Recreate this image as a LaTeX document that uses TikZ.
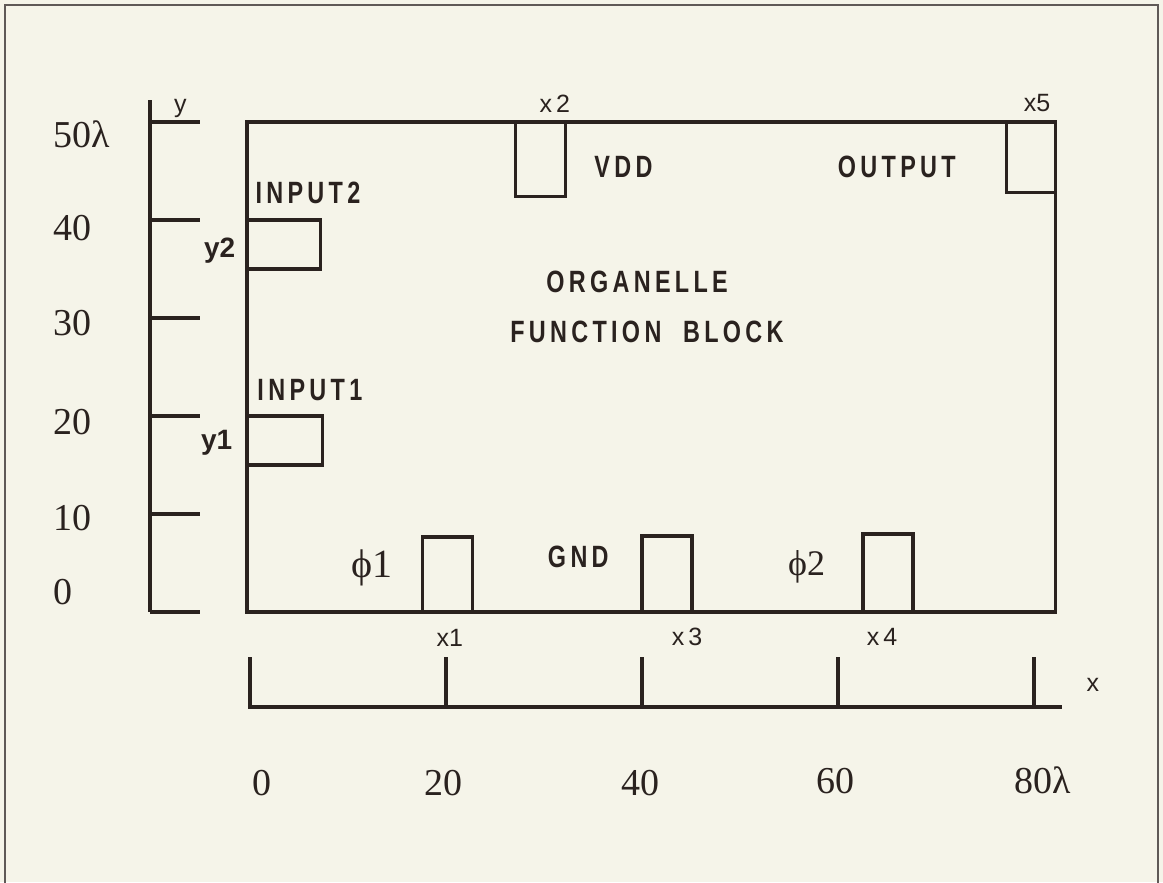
\documentclass[tikz,border=0pt]{standalone}
\usepackage{fontspec}
\setmainfont{Liberation Serif}
\setsansfont{Liberation Sans}
\newfontfamily\plotfont[FakeStretch=0.76,LetterSpace=14]{Liberation Sans}
\definecolor{paper}{RGB}{245,244,233}
\definecolor{ink}{RGB}{42,34,31}

\begin{document}
\begin{tikzpicture}[x=4.9pt,y=4.9pt,color=ink,line width=1.6pt,
    num/.style={font=\fontsize{19}{19}\selectfont},
    tag/.style={font=\sffamily\fontsize{12.5}{12.5}\selectfont},
    tagb/.style={font=\sffamily\bfseries\fontsize{14}{14}\selectfont},
    word/.style={font=\plotfont\bfseries\fontsize{15.4}{15.4}\selectfont},
    padbox/.style={line width=1.6pt}]
    \fill[paper] (-25.51,-27.55) rectangle (93.16,62.45);
    \useasboundingbox (-25.51,-27.55) rectangle (93.16,62.45);

    % sheet frame
    \draw[line width=0.7pt, ink!75] (-25,-28) -- (-25,61.94) -- (92.65,61.94) -- (92.65,-28);

    % y scale
    \draw (-10.2,52.2) -- (-10.2,0);
    \foreach \t in {0,10,...,50} \draw (-10.2,\t) -- (-5.1,\t);
    \node[tag] (ylab) at (-7.1,51.4) {y};

    \node[num, anchor=west, inner xsep=0pt] (y50) at (-20.2,48.7) {50λ};
    \node[num, anchor=west, inner xsep=0pt] (y40) at (-20.2,39.2) {40};
    \node[num, anchor=west, inner xsep=0pt] (y30) at (-20.2,29.5) {30};
    \node[num, anchor=west, inner xsep=0pt] (y20) at (-20.2,19.4) {20};
    \node[num, anchor=west, inner xsep=0pt] (y10) at (-20.2,9.6) {10};
    \node[num, anchor=west, inner xsep=0pt] (y0) at (-20.2,2.0) {0};

    % function block and its pads
    \draw (-0.3,0) rectangle (82.2,50);
    \draw[padbox] (-0.3,35) rectangle (7.2,40);
    \draw[padbox] (-0.3,15) rectangle (7.4,20);
    \draw[padbox] (27.1,42.4) rectangle (32.2,50);
    \draw[padbox] (77.2,42.8) rectangle (82.2,50);
    \draw[padbox] (17.6,0) rectangle (22.7,7.65);
    \draw[padbox] (40,0) rectangle (45.1,7.75);
    \draw[padbox] (62.55,0) rectangle (67.65,7.96);

    \node[tag] (x2) at (31.1,51.9) {x\,2};
    \node[tag] (x5) at (80.3,51.9) {x5};
    \node[word] (vdd) at (38.1,45.4) {VDD};
    \node[word] (output) at (66.0,45.4) {OUTPUT};
    \node[word, anchor=west, inner xsep=0pt] (in2) at (0.4,42.75) {INPUT2};
    \node[word, anchor=west, inner xsep=0pt] (in1) at (0.6,22.65) {INPUT1};
    \node[tagb] (y2) at (-3.1,36.9) {y2};
    \node[tagb] (y1) at (-3.4,17.25) {y1};
    \node[word] (title1) at (39.5,33.7) {ORGANELLE};
    \node[word] (title2) at (40.5,28.6) {FUNCTION~~BLOCK};
    \node[num, font=\fontsize{20}{20}\selectfont] (phi1) at (12.45,4.5) {ϕ1};
    \node[word] (gnd) at (33.5,5.6) {GND};
    \node[num, font=\fontsize{18}{18}\selectfont] (phi2) at (56.8,4.6) {ϕ2};

    % x scale
    \draw (0,-4.6) -- (0,-9.7) -- (82.9,-9.7);
    \foreach \t in {20,40,60,80} \draw (\t,-9.7) -- (\t,-4.6);
    \node[tag] (x1) at (20.4,-2.65) {x1};
    \node[tag] (x3) at (44.6,-2.55) {x\,3};
    \node[tag] (x4) at (64.5,-2.55) {x\,4};
    \node[tag] (xlab) at (86.0,-7.45) {x};

    \node[num] (x0) at (1.2,-17.45) {0};
    \node[num] (x20) at (19.7,-17.45) {20};
    \node[num] (x40) at (39.8,-17.45) {40};
    \node[num] (x60) at (59.7,-17.2) {60};
    \node[num] (x80) at (80.9,-17.2) {80λ};
\end{tikzpicture}
\end{document}
